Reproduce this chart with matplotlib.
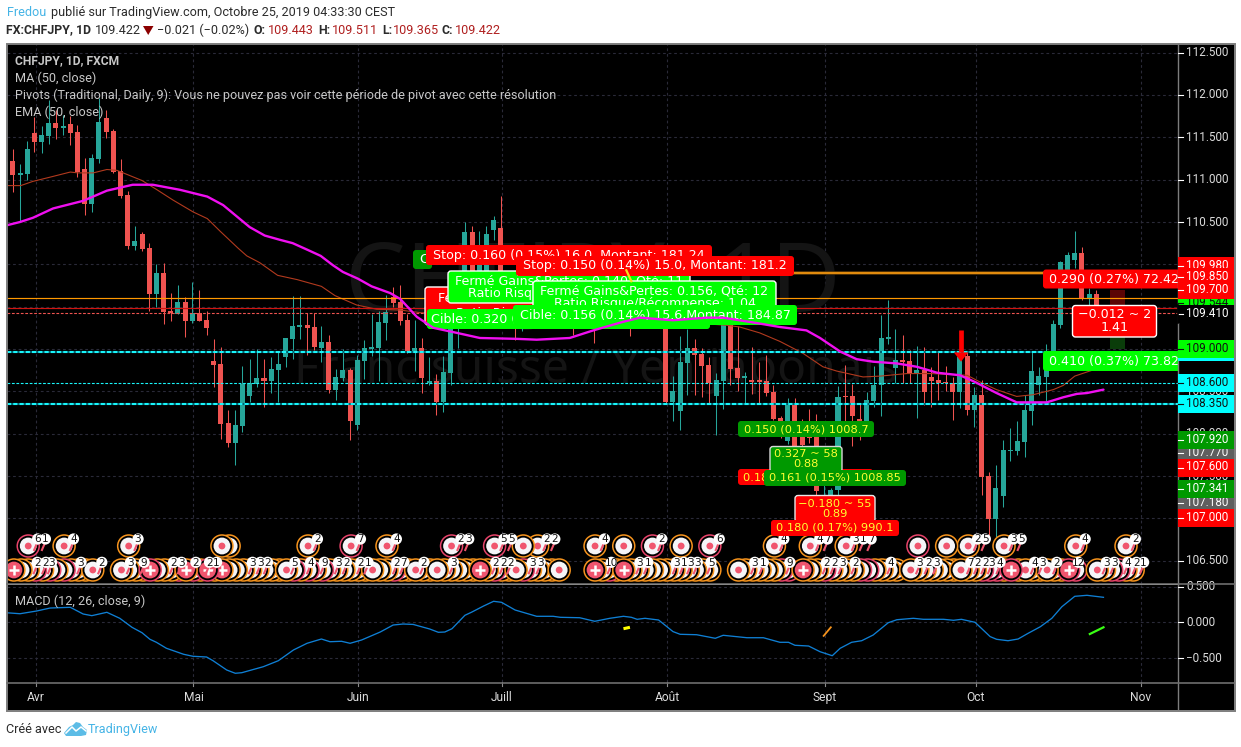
import matplotlib
matplotlib.use('Agg')
import matplotlib.pyplot as plt
from matplotlib.patches import Circle, FancyBboxPatch, Polygon, Rectangle
import numpy as np

W, H = 1241, 747

# daily candles, first bar is four sessions before Apr 1
highs = [111.22,111.36,111.18,111.46,111.74,111.63,111.94,111.82,111.76,111.75,
         111.65,111.26,111.30,111.96,111.82,111.60,111.24,110.87,110.45,110.38,
         110.25,110.00,110.02,109.66,109.76,109.61,109.79,109.70,109.45,109.12,
         109.02,108.28,108.28,108.80,108.88,109.00,108.88,108.90,108.98,109.13,
         109.63,109.63,109.43,109.43,109.27,109.16,108.76,109.00,108.78,108.93,
         109.11,109.41,109.45,109.64,109.73,109.76,109.41,109.34,109.13,108.90,
         108.71,108.92,109.40,109.58,110.50,110.45,110.39,110.45,110.57,110.81,
         109.70,109.64,109.64,109.70,109.67,109.64,109.67,109.62,109.67,109.58,
         109.62,109.67,109.62,109.58,109.64,109.67,109.70,109.62,109.67,109.67,
         109.70,109.72,109.70,108.68,109.15,109.24,109.12,109.01,108.90,108.72,
         109.34,109.34,109.27,108.73,109.02,108.85,108.93,108.58,108.21,108.42,
         108.42,108.17,108.29,108.23,107.83,107.36,108.56,108.81,108.59,108.36,
         108.49,108.80,109.40,109.58,109.24,109.17,108.99,109.04,109.02,108.79,
         108.96,108.80,108.67,108.96,108.96,108.55,108.63,107.55,107.63,107.93,
         108.07,108.15,108.46,108.96,108.79,109.06,109.34,110.04,110.15,110.39,
         110.20,109.72,109.70,109.511]
body_tops = [111.21,111.22,111.08,111.36,111.55,111.53,111.67,111.67,111.63,111.66,
             111.56,111.13,111.26,111.68,111.73,111.57,111.10,110.82,110.28,110.36,
             110.19,109.90,109.90,109.45,109.56,109.56,109.43,109.43,109.34,108.86,
             108.82,108.13,108.10,108.59,108.60,108.66,108.66,108.76,108.82,109.13,
             109.27,109.28,109.28,109.26,109.08,109.08,108.67,108.75,108.75,108.87,
             109.01,109.02,109.32,109.44,109.61,109.56,109.34,109.01,109.01,108.62,
             108.62,108.73,109.32,109.46,110.38,110.38,110.17,110.36,110.52,110.43,
             109.64,109.58,109.52,109.58,109.58,109.54,109.58,109.52,109.56,109.52,
             109.50,109.56,109.52,109.48,109.52,109.58,109.60,109.52,109.58,109.60,
             109.60,109.64,109.58,108.50,108.85,109.01,109.01,108.94,108.81,108.63,
             109.28,109.28,108.78,108.68,108.63,108.63,108.62,108.49,108.19,108.36,
             108.36,107.96,107.96,107.97,107.57,107.34,108.43,108.45,108.45,108.17,
             108.40,108.58,109.13,109.14,108.87,108.87,108.86,108.75,108.75,108.67,
             108.63,108.61,108.60,108.90,108.92,108.46,108.46,107.50,107.36,107.81,
             107.81,107.91,108.28,108.74,108.68,108.75,109.30,110.03,110.11,110.13,
             110.13,109.65,109.65,109.443]
body_bots = [110.77,111.06,111.06,111.07,111.45,111.45,111.52,111.61,111.61,111.55,
             111.09,110.71,110.71,111.24,111.56,111.09,110.81,110.22,110.22,110.18,
             109.65,109.65,109.44,109.42,109.41,109.33,109.33,109.33,109.25,108.81,
             108.11,107.89,107.89,108.09,108.45,108.59,108.62,108.62,108.75,108.90,
             109.12,109.26,109.25,109.02,109.01,108.52,108.52,108.66,108.15,108.10,
             108.86,109.00,109.01,109.31,109.54,109.33,108.98,108.98,108.66,108.60,
             108.37,108.37,108.72,109.28,109.70,109.75,109.70,109.81,110.41,109.75,
             109.46,109.44,109.38,109.44,109.46,109.40,109.44,109.40,109.44,109.38,
             109.39,109.41,109.34,109.37,109.40,109.44,109.44,109.32,109.40,109.44,
             109.46,109.46,108.37,108.37,108.27,108.84,108.93,108.80,108.60,108.45,
             108.62,108.76,108.66,108.66,108.61,108.61,108.48,108.17,108.02,107.91,
             107.75,107.87,107.95,107.32,107.52,107.07,107.34,108.43,108.21,108.15,
             108.15,108.39,108.58,109.12,108.78,108.85,108.72,108.72,108.49,108.62,
             108.60,108.60,108.49,108.49,108.28,108.28,107.49,106.99,106.99,107.26,
             107.80,107.80,107.90,108.27,108.57,108.67,108.96,109.28,109.93,110.05,
             109.60,109.60,109.48,109.422]
lows = [110.77,110.85,110.50,111.00,111.33,111.32,111.42,111.48,111.53,111.41,
        111.03,110.58,110.62,111.20,111.49,111.08,110.78,110.18,110.17,110.16,
        109.45,109.50,109.30,109.33,109.41,109.14,109.31,109.33,109.17,108.55,
        107.94,107.84,107.63,108.02,108.37,108.55,108.31,108.48,108.37,108.79,
        108.88,109.12,108.93,108.99,108.85,108.48,108.40,108.62,107.93,108.04,
        108.65,108.92,108.62,109.11,109.50,109.28,108.95,108.74,108.48,108.57,
        108.22,108.26,108.58,109.01,109.52,109.58,109.58,109.58,110.29,109.58,
        109.28,109.11,109.21,109.32,109.32,109.32,109.32,109.32,109.32,109.17,
        109.30,109.32,109.07,109.30,109.31,109.32,109.30,109.15,109.30,109.30,
        109.30,109.30,108.35,108.15,108.04,108.46,108.46,108.43,108.35,107.98,
        108.29,108.58,108.50,108.36,108.47,108.35,108.45,108.16,107.95,107.88,
        107.63,107.83,107.89,107.28,107.28,107.04,107.22,108.01,107.86,107.93,
        108.14,108.31,108.21,109.06,108.60,108.60,108.60,108.19,108.34,108.31,
        108.40,108.50,108.16,108.30,108.22,108.08,107.28,106.80,106.78,107.13,
        107.68,107.75,107.72,108.10,108.46,108.37,108.89,109.25,109.81,109.96,
        109.58,109.46,109.44,109.365]
# t = up bar, r = down bar
directions = ('trttrttrtr' 'rrttrrrrtr' 'rtrrtrtrrr' 'rrttttrttt' 'ttrrtrttrt'
              'ttttrrrtrt' 'rttttrtttr' 'rrttrrtrtr' 'rtrrttrrtr' 'ttrtttrrrt'
              'trrtrrrrrt' 'rrrrtttrrr' 'tttttrrtrr' 'rrrtrtrrtt' 'tttttttttt' 'rtrr')
first_bar = -4

ema_x = [-3.9,-2,-0.2,2.6,6.8,10.1,13.7,16.5,20.3,24.1,26.3,30,32.1,34.2,36,38.1,39.9,41.6,43,45.1,47,49.6,51,
         53.3,55.6,58.9,62.1,67.2,70,74.6,77.9,82,84.4,89,93.7,96,99.7,103.9,107.6,109.5,112.3,114.6,116.9,
         120.2,123,125.8,129,131.1,134.1,136.9,141.1,143.4,145.3,146.7,149]
ema_y = [110.46,110.50,110.55,110.66,110.75,110.87,110.94,110.94,110.88,110.80,110.70,110.44,110.34,110.29,110.25,
         110.17,110.10,109.99,109.91,109.83,109.74,109.66,109.59,109.38,109.25,109.19,109.13,109.12,109.11,109.13,
         109.22,109.32,109.37,109.34,109.37,109.37,109.32,109.26,109.22,109.13,108.97,108.88,108.85,108.83,108.79,
         108.72,108.69,108.61,108.48,108.37,108.37,108.43,108.47,108.48,108.52]
ma_x = [-3.9,-1.9,-0.2,2.2,5,6.1,8.2,10.1,11.5,15,17.1,19.3,22.1,24.1,25.9,28.4,29.6,31.4,33.9,36.6,40,41.9,44.9,
        47.7,51,53.7,64.9,78.8,90,96.5,98.3,101.1,103.9,107.1,109.9,111.8,115.5,117.9,121.6,125,130,131.8,134.1,
        136.9,139.2,142,143.4,145,147.1,149]
ma_y = [110.93,110.93,110.98,111.03,111.09,111.08,111.08,111.12,111.11,110.99,110.88,110.76,110.62,110.54,110.39,
        110.19,110.10,110.02,109.87,109.82,109.74,109.63,109.52,109.47,109.46,109.43,109.37,109.34,109.32,109.28,
        109.26,109.19,109.09,108.95,108.79,108.74,108.67,108.68,108.71,108.71,108.69,108.61,108.52,108.44,108.46,
        108.52,108.57,108.68,108.74,108.79]
macd_x = [-3.9,-2,0.3,2.2,5,6.8,8,10.1,11.9,13.6,15,16.1,17,18.4,20.8,22.1,24,24.9,26.8,28,28.9,31.9,34,36.1,38,40,
          41.2,42.8,44,45.6,48.2,50,51.4,52.8,55.1,56.3,57.2,58.2,60,60.9,62.6,64,65.1,67,70,72.3,73.3,76,78.1,80.2,
          82.1,83.2,84,85.1,87,89,90,92.3,94.9,96,99.3,101.6,103.9,105.1,106,107.9,109.5,111.2,112.3,113.9,115.3,
          116.9,119,120.2,122.5,123.9,126.7,128.1,129.2,131.1,133.2,134.1,135.7,137.1,138.5,140.2,141.8,143.2,145,
          146.7,149]
macd_y = [.134,.12,.158,.20,.21,.116,.093,.14,.056,-.07,-.146,-.238,-.28,-.364,-.448,-.476,-.486,-.538,-.668,-.714,
          -.706,-.622,-.538,-.388,-.294,-.234,-.272,-.266,-.294,-.248,-.136,-.038,-.024,-.03,-.094,-.14,-.136,-.09,
          .098,.14,.228,.294,.28,.172,.084,.084,.07,.064,.014,.056,.084,.07,.042,.056,.032,-.13,-.168,-.174,-.224,
          -.182,-.216,-.216,-.28,-.28,-.322,-.332,-.412,-.468,-.364,-.28,-.258,-.178,-.006,.036,.056,.042,.042,.028,
          .042,0,-.2,-.238,-.258,-.234,-.154,-.062,.056,.218,.364,.378,.35]

month_bars = [0, 22, 45, 65, 88, 110, 131, 154]
month_names = ['Avr', 'Mai', 'Juin', 'Juill', 'Août', 'Sept', 'Oct', 'Nov']
price_ticks = [112.5, 112.0, 111.5, 111.0, 110.5, 110.0, 109.5, 108.5, 108.0, 107.5, 106.5]
macd_ticks = [0.5, 0.0, -0.5]
macd_tick_labels = ['0.500', '0.000', '−0.500']

# price column tags, in stacking order
tag_prices = [109.544, 109.98, 109.85, 109.70, 109.41, 108.96, 109.00, 108.60, 108.35,
              107.77, 107.92, 107.60, 107.18, 107.341, 107.00]
tag_texts = ['109.544', '109.980', '109.850', '109.700', '109.410', '108.960', '109.000', '108.600', '108.350',
             '107.770', '107.920', '107.600', '107.180', '107.341', '107.000']
tag_bg = ['#00ff00', '#ff0000', '#ff0000', '#ff0000', '#000000', '#00ffff', '#00ff00', '#00ffff', '#00ffff',
          '#5f5f5f', '#009900', '#ff0000', '#5f5f5f', '#009900', '#ff0000']
tag_fg = ['#111111', '#ffffff', '#ffffff', '#ffffff', '#ffffff', '#111111', '#111111', '#111111', '#111111',
          '#ffffff', '#ffffff', '#ffffff', '#ffffff', '#ffffff', '#ffffff']

# event bubbles above the MACD pane
top_bars = [-1, 4, 13, 26, 27, 38, 44, 49, 58, 64, 68, 70, 78, 82, 86, 90, 94, 103, 108, 113, 123, 127, 130, 135, 145, 152]
top_counts = [['6','1'], ['4'], ['3'], [], [], ['2'], ['7'], ['4'], ['2','3'], ['5','5'], [], ['2','2'], ['4'], [],
              ['2'], [], ['6'], ['4'], ['4','7'], ['3','1','7'], [], [], ['2','5'], ['3','5'], ['4'], ['2']]
top_pink = [-1, 44, 58, 64, 86, 94, 123]
low_bars = [-3,-2,-1,0,1,2,3,4,5,6,7,8,12,13,14,15,16,17,18,19,20,21,22,23,24,25,26,27,28,29,30,31,32,33,34,
            35,36,37,38,39,40,41,42,43,44,45,46,47,48,49,50,51,52,53,54,55,56,57,58,59,60,61,62,63,64,65,66,
            67,68,69,70,71,72,73,78,79,80,81,82,83,84,85,86,87,88,89,90,91,92,93,94,98,99,100,101,102,103,104,105,
            107,108,109,110,111,112,113,114,115,116,117,118,119,120,122,123,124,125,126,127,128,129,130,131,132,133,
            134,135,136,137,138,139,140,141,142,143,144,145,148,149,150,151,152,153]
low_dots = [8, 12, 35, 47, 53, 56, 67, 73, 98, 122, 129, 138, 141, 148]
low_plus = [-3, 16, 21, 24, 26, 62, 78, 82, 107, 136, 144]
low_pink = [0, 2, 4, 16, 20, 22, 24, 36, 38, 40, 50, 64, 68, 80, 104, 105, 110, 115, 116, 132, 133, 134, 136, 144, 145, 150, 151]
badge_bars = [.4,1.6,2.4,6.5,9.4,13.4,15.3,19.4,20.5,22.5,24.4,25.4,30.4,31.5,32.5,36.3,38.5,40.4,42.4,43.5,45.5,46.5,
              50.5,51.5,54.3,58.4,64.3,65.4,66.4,69.4,70.5,80.4,84.4,85.5,89.5,90.5,91.5,92.4,94.3,100.4,101.6,105.3,
              110.4,111.5,112.6,114.4,119.4,123.4,124.6,125.8,130.5,131.5,132.5,133.4,134.6,139.4,140.5,142.5,145.5,
              149.4,150.5,152.4,153.6,154.6]
badge_texts = ['2','2','3','3','2','3','9','2','3','2','2','1','3','3','2','5','4','9','3','2','2','1',
               '2','7','2','3','2','2','2','3','3','10','3','1','3','1','3','3','5','3','1','9',
               '2','2','3','2','4','3','2','3','7','2','2','3','4','4','3','2','12',
               '3','3','4','2','1']

RED, TEAL = '#ef5350', '#26a69a'
GRID = '#2a2a38'
BORDER = '#7d7d7d'
AX_TEXT = '#dcdcdc'

plt.rcParams['font.family'] = ['Roboto', 'DejaVu Sans']


def px_font(size):
    return size * 72 / 100


def bar_px(i):
    return 34.4 + 7.175 * i


def price_px(p):
    return 222 + (110.5 - p) * 84.67


fig = plt.figure(figsize=(W / 100, H / 100), dpi=100, facecolor='white')


def add_px_axes(x0, y0, x1, y1):
    return fig.add_axes([x0 / W, 1 - y1 / H, (x1 - x0) / W, (y1 - y0) / H])


ax = add_px_axes(7, 44, 1178, 584)
ax_macd = add_px_axes(7, 585, 1178, 682)
over = fig.add_axes([0, 0, 1, 1], zorder=10)
over.set_xlim(0, W)
over.set_ylim(H, 0)
over.axis('off')
over.patch.set_visible(False)

xlim = ((7 - 34.4) / 7.175, (1178 - 34.4) / 7.175)
for a in (ax, ax_macd):
    a.set_facecolor('black')
    a.set_xlim(*xlim)
    a.set_xticks([])
    a.set_yticks([])
    for s in a.spines.values():
        s.set_visible(False)
    for m in month_bars:
        a.axvline(m + 0.17, color=GRID, lw=0.8, ls=(0, (2.5, 2.5)), zorder=1)
ax.set_ylim(110.5 - (584 - 222) / 84.67, 110.5 + (222 - 44) / 84.67)
ax_macd.set_ylim((622.3 - 682) / 71.4, (622.3 - 585) / 71.4)
for p in [112.5, 112, 111.5, 111, 110.5, 110, 109.5, 109, 108.5, 108, 107.5, 107, 106.5]:
    ax.axhline(p, color=GRID, lw=0.8, ls=(0, (2.5, 2.5)), zorder=1)
for v in macd_ticks:
    ax_macd.axhline(v, color=GRID, lw=0.8, ls=(0, (2.5, 2.5)), zorder=1)

# watermark
ax.text(593, 286, 'CHFJPY, 1D', transform=over.transData, color='#141414', fontsize=px_font(96),
        family=['Noto Sans', 'DejaVu Sans'], ha='center', va='center', zorder=1.5)
ax.text(596, 370, 'Franc suisse / Yen japonais', transform=over.transData, color='#141414', fontsize=px_font(48),
        family=['Noto Sans', 'DejaVu Sans'], ha='center', va='center', zorder=1.5)

# candles
idx = np.arange(len(highs)) + first_bar
colors = [TEAL if d == 't' else RED for d in directions]
ax.vlines(idx, lows, highs, colors=colors, lw=0.75, zorder=2)
ax.bar(idx, np.array(body_tops) - np.array(body_bots), bottom=body_bots, width=0.7, color=colors, lw=0, zorder=2.2)

# trade box on the last bar
ax.bar([151], [109.70 - 109.42], bottom=[109.42], width=2.1, color='#5c0505', lw=0, zorder=2.5)
ax.bar([151], [109.42 - 109.00], bottom=[109.00], width=2.1, color='#0a3d0a', lw=0, zorder=2.5)

# moving average under the levels, EMA goes on top of everything
ax.plot(ma_x, ma_y, color='#b23a1e', lw=0.8, zorder=3)
ax.plot(ema_x, ema_y, color='#f00ff0', lw=1.7, zorder=60, solid_capstyle='round')

# horizontal levels
ax.hlines(109.90, 70, 146, color='#5c3a08', lw=2.6, zorder=4)
ax.hlines(109.90, 70, 146, color='#f0940f', lw=1.3, zorder=4.1)
ax.axhline(109.60, color='#ff9800', lw=0.85, zorder=4)
ax.axhline(109.49, color='#d01510', lw=0.85, zorder=4)
ax.axhline(109.422, color='#ef5350', lw=0.8, ls=(0, (2.5, 1.5)), zorder=4)
for level in (108.96, 108.35):
    ax.axhline(level, color='#00606c', lw=1.5, zorder=4)
    ax.axhline(level, color='#19f5fa', lw=1.5, ls=(0, (2.0, 1.0)), zorder=4.1)
ax.axhline(108.60, color='#19f5fa', lw=0.8, ls=(0, (2.5, 1.5)), zorder=4)

# entry arrow
arrow_bar = 129.15
ax.plot([arrow_bar, arrow_bar], [109.22, 108.96], color='#ff0000', lw=3.4, solid_capstyle='butt', zorder=45)
ax.fill([arrow_bar - 1.0, arrow_bar + 1.0, arrow_bar], [108.96, 108.96, 108.85], color='#ff0000', lw=0, zorder=45)


def box_label(x0, y0, x1, y1, fc, lines, z, fg='white', border=None, size=12.6, round_r=3):
    ax.add_patch(FancyBboxPatch((x0, y0), x1 - x0, y1 - y0, boxstyle='round,pad=0,rounding_size=%g' % round_r,
                                transform=over.transData, fc=fc, ec=border or fc, lw=1.0 if border else 0, zorder=z))
    n = len(lines)
    step = (y1 - y0 - 6) / n if n > 1 else 0
    for k, txt in enumerate(lines):
        ty = (y0 + y1) / 2 if n == 1 else y0 + 3 + step * (k + 0.5)
        ax.text((x0 + x1) / 2, ty, txt, transform=over.transData, color=fg, fontsize=px_font(size), family='DejaVu Sans',
                ha='center', va='center', zorder=z + 0.1, clip_on=True)


LIME, DARK_GREEN, PURE_RED = '#00ff00', '#009900', '#ff0000'
box_label(413, 250, 432, 269, DARK_GREEN, [], 20)
ax.text(420, 259.5, 'Cible: 0.320', transform=over.transData, color='white', fontsize=px_font(12.6), family='DejaVu Sans',
        ha='left', va='center', zorder=20.1)
box_label(426, 245, 712, 265, PURE_RED, ['Stop: 0.160 (0.15%) 16.0, Montant: 181.24'], 21)
box_label(425, 287, 690, 325, PURE_RED, ['Fermé Gains&Pertes: −0.160, Qté: 16', 'Ratio Risque/Récompense: 1.11'], 22, border='white')
box_label(448, 271, 690, 303, LIME, ['Fermé Gains&Pertes: 0.140, Qté: 11', 'Ratio Risque/Récompense: 0.88'], 23, border='white')
box_label(427, 309, 710, 329, LIME, ['Cible: 0.320 (0.29%) 32.0, Montant: 182.72'], 24)
box_label(516, 256, 794, 276, PURE_RED, ['Stop: 0.150 (0.14%) 15.0, Montant: 181.2'], 25)
box_label(533, 281, 776, 313, LIME, ['Fermé Gains&Pertes: 0.156, Qté: 12', 'Ratio Risque/Récompense: 1.04'], 26, border='white')
box_label(513, 305, 797, 325, LIME, ['Cible: 0.156 (0.14%) 15.6,Montant: 184.87'], 27)

box_label(1043, 269.5, 1185, 288.5, PURE_RED, ['0.290 (0.27%) 72.42'], 30)
box_label(1043, 351, 1185, 371, LIME, ['0.410 (0.37%) 73.82'], 31)
box_label(1072.5, 305.5, 1156.5, 337, PURE_RED, ['−0.012 ~ 2', '1.41'], 32, border='white')

YEL = '#ffff33'
box_label(738, 421, 874, 437, DARK_GREEN, ['0.150 (0.14%) 1008.7'], 33, fg=YEL, size=11.4)
box_label(738, 469, 873, 485, PURE_RED, ['0.180 (0.17%) 1009.7'], 34, fg=YEL, size=11.4)
box_label(770, 446.5, 842, 472, DARK_GREEN, ['0.327 ~ 58', '0.88'], 35, fg=YEL, border='#d8d8d8', size=11.4)
box_label(764, 470, 906, 486, DARK_GREEN, ['0.161 (0.15%) 1008.85'], 36, fg=YEL, size=11.4)
box_label(795, 495.5, 875, 522, PURE_RED, ['−0.180 ~ 55', '0.89'], 37, fg=YEL, border='#e8e8e8', size=11.4)
box_label(771, 520, 899, 536, PURE_RED, ['0.180 (0.17%) 990.1'], 38, fg=YEL, size=11.4)

# sliver of the tool drawn across the labels
ax.plot([82.5, 83.2], [109.93, 109.80], color='#f5e31a', lw=1.6, zorder=40)

# MACD pane
ax_macd.plot(macd_x, macd_y, color='#0f7fd4', lw=0.95, zorder=3)
ax_macd.plot([82.1, 83], [-.09, -.07], color='#ffff00', lw=2.2, solid_capstyle='butt', zorder=4)
ax_macd.plot([110, 111], [-.19, -.07], color='#f7941d', lw=1.3, zorder=4)
ax_macd.plot([147.1, 149], [-.164, -.07], color='#39ff14', lw=1.6, zorder=4)

# bubbles


def bubble(i, y, ring, kind, z):
    x = bar_px(i) + 1
    ax.add_patch(Circle((x, y), 11.0, transform=over.transData, fc='black', ec=ring, lw=1.1, zorder=z))
    if kind == 'plus':
        ax.add_patch(Circle((x, y), 8.4, transform=over.transData, fc='#f0556e', lw=0, zorder=z))
        ax.plot([x - 5, x + 5], [y, y], transform=over.transData, color='white', lw=1.8, zorder=z, solid_capstyle='butt')
        ax.plot([x, x], [y - 5, y + 5], transform=over.transData, color='white', lw=1.8, zorder=z, solid_capstyle='butt')
    else:
        ax.add_patch(Circle((x, y), 8.4, transform=over.transData, fc='#f5f5f8', lw=0, zorder=z))
        ax.add_patch(Circle((x, y), 3.4, transform=over.transData, fc='#f0556e', lw=0, zorder=z))


def badge(x, y, txt, z):
    # small pink hook under the count
    ax.plot([x - 0.5, x - 3.5], [y + 4, y + 11], transform=over.transData, color='#f0556e', lw=1.5, zorder=z)
    ax.add_patch(Circle((x, y), 5.6, transform=over.transData, fc='white', lw=0, zorder=z))
    ax.text(x, y + 0.2, txt, transform=over.transData, color='#111111', fontsize=px_font(10.5), family='DejaVu Sans',
            ha='center', va='center', zorder=z + 0.01)


TOP_Y, LOW_Y = 546, 570
ORANGE, PINK = '#f7941d', '#e8436a'
z = 8.0
for k, i in enumerate(reversed(low_bars)):
    if i in low_dots or i in low_plus:
        continue
    bubble(i, LOW_Y, PINK if i in low_pink else ORANGE, 'dot', z + k * 0.005)
z = 10.0
for k, i in enumerate(sorted(low_dots + low_plus, reverse=True)):
    bubble(i, LOW_Y, PINK if i in low_pink else ORANGE, 'plus' if i in low_plus else 'dot', z + k * 0.005)
z = 11.0
for k, i in enumerate(reversed(top_bars)):
    bubble(i, TOP_Y, PINK if i in top_pink else ORANGE, 'dot', z + k * 0.005)
z = 12.0
for k, (i, counts) in enumerate(zip(top_bars, top_counts)):
    for n, c in enumerate(counts):
        badge(bar_px(i) + 1 + 9.4 + n * 7.8, 539, c, z + k * 0.01 + n * 0.002)
for k, (i, c) in enumerate(zip(badge_bars, badge_texts)):
    badge(bar_px(i), 562.3, c, 13 + k * 0.005)

# chart furniture in figure pixels
over.add_patch(Rectangle((1178, 44), 56, 666, fc='black', lw=0, zorder=1))
over.add_patch(Rectangle((7, 682), 1171, 28, fc='black', lw=0, zorder=1))
over.add_patch(Rectangle((6.5, 43.5), 1228, 667, fc='none', ec=BORDER, lw=1.4, zorder=9))
over.plot([7, 1234], [584, 584], color='#6e6e6e', lw=1.2, zorder=9)
over.plot([7, 1234], [682.5, 682.5], color='#6e6e6e', lw=1.2, zorder=9)
over.plot([1178, 1178], [44, 710], color=BORDER, lw=1.0, zorder=2)

# price column
AX_FONT = dict(fontsize=px_font(11.6), va='center', ha='left')
for p in price_ticks:
    y = price_px(p)
    over.plot([1178, 1183], [y, y], color='white', lw=0.8, zorder=2)
    over.text(1186, y, '%.3f' % p, color=AX_TEXT, zorder=2, **AX_FONT)
for k, (p, t, bg, fg) in enumerate(zip(tag_prices, tag_texts, tag_bg, tag_fg)):
    y = price_px(p)
    zt = 3 + k * 0.1
    over.add_patch(Rectangle((1178, y - 9), 56, 18, fc=bg, lw=0, zorder=zt))
    over.plot([1178, 1183], [y, y], color=fg if bg != '#00ffff' else '#111111', lw=0.8, zorder=zt + 0.01)
    over.text(1186, y - 0.6, t, color=fg, zorder=zt + 0.02, **AX_FONT)
over.plot([1178, 1178], [305, 323], color='black', lw=1.2, zorder=4.6)
for v, lab in zip(macd_ticks, macd_tick_labels):
    y = 622.3 - v * 71.4
    over.plot([1178, 1183], [y, y], color='white', lw=0.8, zorder=2)
    over.text(1186, y + 0.4, lab, color=AX_TEXT, zorder=2, **AX_FONT)

# time axis
for m, name in zip(month_bars, month_names):
    x = bar_px(m) + 1.2
    over.plot([x, x], [682, 686], color='#8a8a8a', lw=0.8, zorder=2)
    over.text(x, 697.8, name, color=AX_TEXT, fontsize=px_font(12), ha='center', va='center', zorder=2)

# indicator legend
LEG = dict(color='#c8c8c8', fontsize=px_font(12.6), va='center', ha='left', zorder=6)
over.text(15, 61, 'CHFJPY, 1D, FXCM', color='#c8c8c8', fontweight='bold', fontsize=px_font(12), va='center', ha='left', zorder=6)
over.text(15, 78, 'MA (50, close)', **LEG)
over.text(15, 95, 'Pivots (Traditional, Daily, 9): Vous ne pouvez pas voir cette période de pivot avec cette résolution', **LEG)
over.text(15, 112, 'EMA (50, close)', **LEG)
over.text(15, 601, 'MACD (12, 26, close, 9)', **LEG)

# header lines
HEAD = dict(fontsize=px_font(12.6), va='center', ha='left')
HEAD_BOLD = dict(fontsize=px_font(12.2), fontweight='bold', va='center', ha='left')
INK, PRICE_RED, LINK = '#2b2b2b', '#b02020', '#45b4e6'
over.text(6.5, 12.5, 'Fredou', color=LINK, **HEAD)
over.text(51, 12.5, 'publié sur TradingView.com, Octobre 25, 2019 04:33:30 CEST', color=INK, **HEAD)
over.text(6.5, 30, 'FX:CHFJPY, 1D', color=INK, **HEAD_BOLD)
over.text(95, 30, '109.422', color=INK, **HEAD)
over.add_patch(Polygon([(143, 26), (153.5, 26), (148.2, 35)], closed=True, fc='#8b0000', lw=0))
over.text(157, 30, '−0.021 (−0.02%)', color=INK, **HEAD)
for x, lab in zip([253, 318, 382, 442], ['O:', 'H:', 'L:', 'C:']):
    over.text(x, 30, lab, color=INK, **HEAD_BOLD)
for x, val in zip([268, 332, 393, 455], ['109.443', '109.511', '109.365', '109.422']):
    over.text(x, 30, val, color=PRICE_RED, **HEAD)

# footer with logo
over.text(6.5, 729.5, 'Créé avec', color=INK, **HEAD)
over.add_patch(Polygon([(64, 733), (69, 727), (73, 725), (76, 722), (80, 723), (83, 727), (87, 730), (86, 735), (81, 736),
                        (66, 736)], closed=True, fc='#5cbce6', lw=0))
over.plot([66, 72, 76, 81, 86], [733, 727, 731, 727, 731], color='white', lw=1.1)
over.text(88, 729.5, 'TradingView', color=LINK, **HEAD)

fig.savefig('out.png', dpi=100, facecolor='white')
